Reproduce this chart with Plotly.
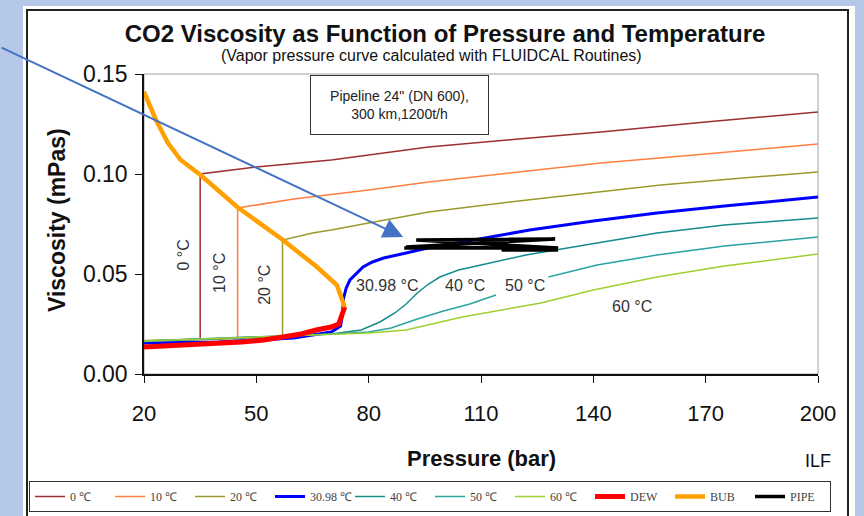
import plotly.graph_objects as go

# ---------------- data ----------------
p_0c = [20, 28, 35, 35, 50, 70, 96, 120, 142, 170, 200]
mu_0c = [0.0163, 0.0168, 0.0175, 0.100, 0.1035, 0.107, 0.1135, 0.1175, 0.121, 0.126, 0.131]

p_10c = [20, 35, 45, 45, 60, 80, 96, 120, 142, 170, 200]
mu_10c = [0.0165, 0.0172, 0.018, 0.083, 0.0875, 0.092, 0.096, 0.101, 0.1055, 0.110, 0.115]

p_20c = [20, 40, 57, 57, 65, 70, 80, 96, 120, 142, 158, 180, 200]
mu_20c = [0.0167, 0.0174, 0.0187, 0.067, 0.0705, 0.072, 0.0755, 0.081, 0.0865, 0.091, 0.0945, 0.098, 0.101]

p_31c = [20, 40, 60, 70, 72.5, 73, 73.3, 74, 75, 76.5, 78.5, 81, 84, 90, 98, 105, 115, 123, 140, 157, 175, 200]
mu_31c = [0.0155, 0.016, 0.018, 0.021, 0.024, 0.030, 0.038, 0.043, 0.047, 0.050, 0.0535, 0.056, 0.058,
          0.0605, 0.064, 0.066, 0.0695, 0.072, 0.0765, 0.0805, 0.084, 0.0885]

p_40c = [20, 50, 70, 78, 83, 87, 90, 93, 96, 99, 104, 110, 122, 141, 157, 175, 200]
mu_40c = [0.0165, 0.0185, 0.020, 0.022, 0.026, 0.0305, 0.035, 0.0405, 0.045, 0.0485, 0.052, 0.0545,
          0.0595, 0.0655, 0.0705, 0.0745, 0.078]

p_50c = [20, 60, 80, 86, 93, 100, 107, 114, None, 128, 141, 157, 175, 200]
mu_50c = [0.0163, 0.019, 0.021, 0.023, 0.0275, 0.0315, 0.035, 0.0395, None, 0.0485, 0.0545, 0.0595, 0.064, 0.0685]

p_60c = [20, 60, 80, 90, 105, 126, 140, 157, 175, 200]
mu_60c = [0.0165, 0.019, 0.0205, 0.022, 0.0285, 0.0355, 0.042, 0.0485, 0.054, 0.060]

p_dew = [20, 25, 30, 34, 40, 46, 52, 57, 62, 66, 70, 72, 73, 73.6]
mu_dew = [0.0135, 0.014, 0.0142, 0.0145, 0.015, 0.016, 0.017, 0.0185, 0.020, 0.022, 0.0235, 0.025, 0.030, 0.0335]

p_bub = [20, 23.2, 26.4, 29.8, 35.1, 44.9, 57.1, 66.2, 71.5, 72.8, 73.6]
mu_bub = [0.141, 0.127, 0.1155, 0.107, 0.0995, 0.0835, 0.067, 0.0535, 0.0445, 0.0385, 0.0335]

p_pipe = [89.5, 130.6, 92.7, 129.8, 90.0, 120.8, 115.5, 130.6]
mu_pipe = [0.063, 0.063, 0.067, 0.0675, 0.0635, 0.063, 0.062, 0.062]

series_names = ["0 \u2103", "10 \u2103", "20 \u2103", "30.98 \u2103", "40 \u2103", "50 \u2103", "60 \u2103",
                "DEW", "BUB", "PIPE"]

label_text = ["0 \u00b0C", "10 \u00b0C", "20 \u00b0C", "30.98 \u00b0C", "40 \u00b0C", "50 \u00b0C", "60 \u00b0C"]
label_p = [30.3, 40.0, 52.0, 84.9, 105.8, 121.8, 150.4]
label_mu = [0.0595, 0.0505, 0.0445, 0.0445, 0.0445, 0.0445, 0.034]
label_angle = [-90, -90, -90, 0, 0, 0, 0]

x_ticks = [20, 50, 80, 110, 140, 170, 200]
y_ticks = [0.00, 0.05, 0.10, 0.15]

# ---------------- styling ----------------
colors = ["#9c2f31", "#ff8040", "#9a9a2c", "#0000ff", "#168c8c", "#2aa3a3", "#9fcf2e",
          "#ff0000", "#ffa000", "#000000"]
widths = [1.5, 1.5, 1.5, 3, 1.5, 1.5, 1.5, 5, 4.5, 3.5]

FIG_W, FIG_H = 864, 516
L, R, T, B = 144, 46, 74, 142
PW, PH = FIG_W - L - R, FIG_H - T - B


def px_to_paper_x(px):
    return (px - L) / PW


def py_to_paper_y(py):
    return (FIG_H - B - py) / PH


fig = go.Figure()

xs = [p_0c, p_10c, p_20c, p_31c, p_40c, p_50c, p_60c, p_dew, p_bub, p_pipe]
ys = [mu_0c, mu_10c, mu_20c, mu_31c, mu_40c, mu_50c, mu_60c, mu_dew, mu_bub, mu_pipe]

for i in range(10):
    fig.add_trace(go.Scatter(
        x=xs[i], y=ys[i], mode="lines", name=series_names[i],
        line=dict(color=colors[i], width=widths[i]),
        connectgaps=False, hoverinfo="skip",
    ))

SANS = "Liberation Sans, Arial, sans-serif"

annotations = []
for t, p, m, a in zip(label_text, label_p, label_mu, label_angle):
    annotations.append(dict(x=p, y=m, xref="x", yref="y", text=t, showarrow=False,
                            xanchor="center", yanchor="middle",
                            textangle=a, font=dict(family=SANS, size=16, color="#333333")))

# arrow pointing at the pipe scribble
annotations.append(dict(x=89.2, y=0.0685, xref="x", yref="y", ax=-403, ay=-190,
                        showarrow=True, arrowhead=2,
                        arrowsize=2, arrowwidth=2, arrowcolor="#4472c4", text=""))


def paper_note(px, py, text, size, bold=False, angle=0, **kw):
    return dict(x=px_to_paper_x(px), y=py_to_paper_y(py), xref="paper", yref="paper",
                text=("<b>%s</b>" % text) if bold else text, showarrow=False,
                xanchor="center", yanchor="middle", textangle=angle,
                font=dict(family=SANS, size=size, color=kw.pop("color", "#111111")), **kw)


annotations.append(paper_note(399.5, 105, "Pipeline 24\" (DN 600),<br>300 km,1200t/h", 14,
                              width=175, height=56, bgcolor="white", bordercolor="#333333",
                              borderwidth=1, align="center", color="#222222"))
annotations.append(paper_note(431, 56, "(Vapor pressure curve calculated with FLUIDCAL Routines)", 16))
annotations.append(paper_note(57, 220, "Viscosity (mPas)", 23, bold=True, angle=-90))
annotations.append(paper_note(481, 459, "Pressure (bar)", 22, bold=True))
annotations.append(paper_note(818, 461, "ILF", 18))

shapes = [
    dict(type="rect", xref="paper", yref="paper", layer="below",
         x0=px_to_paper_x(23), x1=px_to_paper_x(855), y0=py_to_paper_y(530), y1=py_to_paper_y(6),
         fillcolor="white", line=dict(width=0)),
    dict(type="rect", xref="paper", yref="paper", layer="below",
         x0=px_to_paper_x(27), x1=px_to_paper_x(848), y0=py_to_paper_y(540), y1=py_to_paper_y(10),
         fillcolor="rgba(0,0,0,0)", line=dict(color="#222222", width=2)),
    dict(type="rect", xref="paper", yref="paper", layer="below",
         x0=0, x1=1, y0=0, y1=1, fillcolor="rgba(0,0,0,0)", line=dict(color="#a0a0a0", width=1)),
]

fig.update_layout(
    width=FIG_W, height=FIG_H,
    margin=dict(l=L, r=R, t=T, b=B, pad=0, autoexpand=False),
    paper_bgcolor="#b6c8e8", plot_bgcolor="white",
    title=dict(text="<b>CO2 Viscosity as Function of Pressure and Temperature</b>",
               x=445 / FIG_W, xanchor="center", xref="container",
               y=1 - 34 / FIG_H, yanchor="middle", yref="container",
               font=dict(family=SANS, size=24, color="#111111")),
    xaxis=dict(range=[20, 200], tickvals=x_ticks, ticktext=[str(v) for v in x_ticks],
               showgrid=False, zeroline=False, showline=True, linecolor="#111111", linewidth=1.5,
               ticks="outside", ticklen=7, tickwidth=1.2, tickcolor="#111111",
               ticklabelstandoff=12, automargin=False,
               tickfont=dict(family=SANS, size=22, color="#111111")),
    yaxis=dict(range=[0, 0.15], tickvals=y_ticks, ticktext=["%.2f" % v for v in y_ticks],
               showgrid=False, zeroline=False, showline=True, linecolor="#111111", linewidth=1.5,
               ticks="outside", ticklen=7, tickwidth=1.2, tickcolor="#111111",
               ticklabelstandoff=3, automargin=False,
               tickfont=dict(family=SANS, size=23, color="#111111")),
    legend=dict(orientation="h", xref="paper", yref="paper",
                x=px_to_paper_x(29), y=py_to_paper_y(481), xanchor="left", yanchor="top",
                bgcolor="white", bordercolor="#333333", borderwidth=1,
                entrywidth=35, entrywidthmode="pixels", itemwidth=30,
                font=dict(family="Liberation Serif, Times New Roman, serif", size=12, color="#444444")),
    showlegend=True,
    annotations=annotations,
    shapes=shapes,
)

fig.write_html("out.html")
